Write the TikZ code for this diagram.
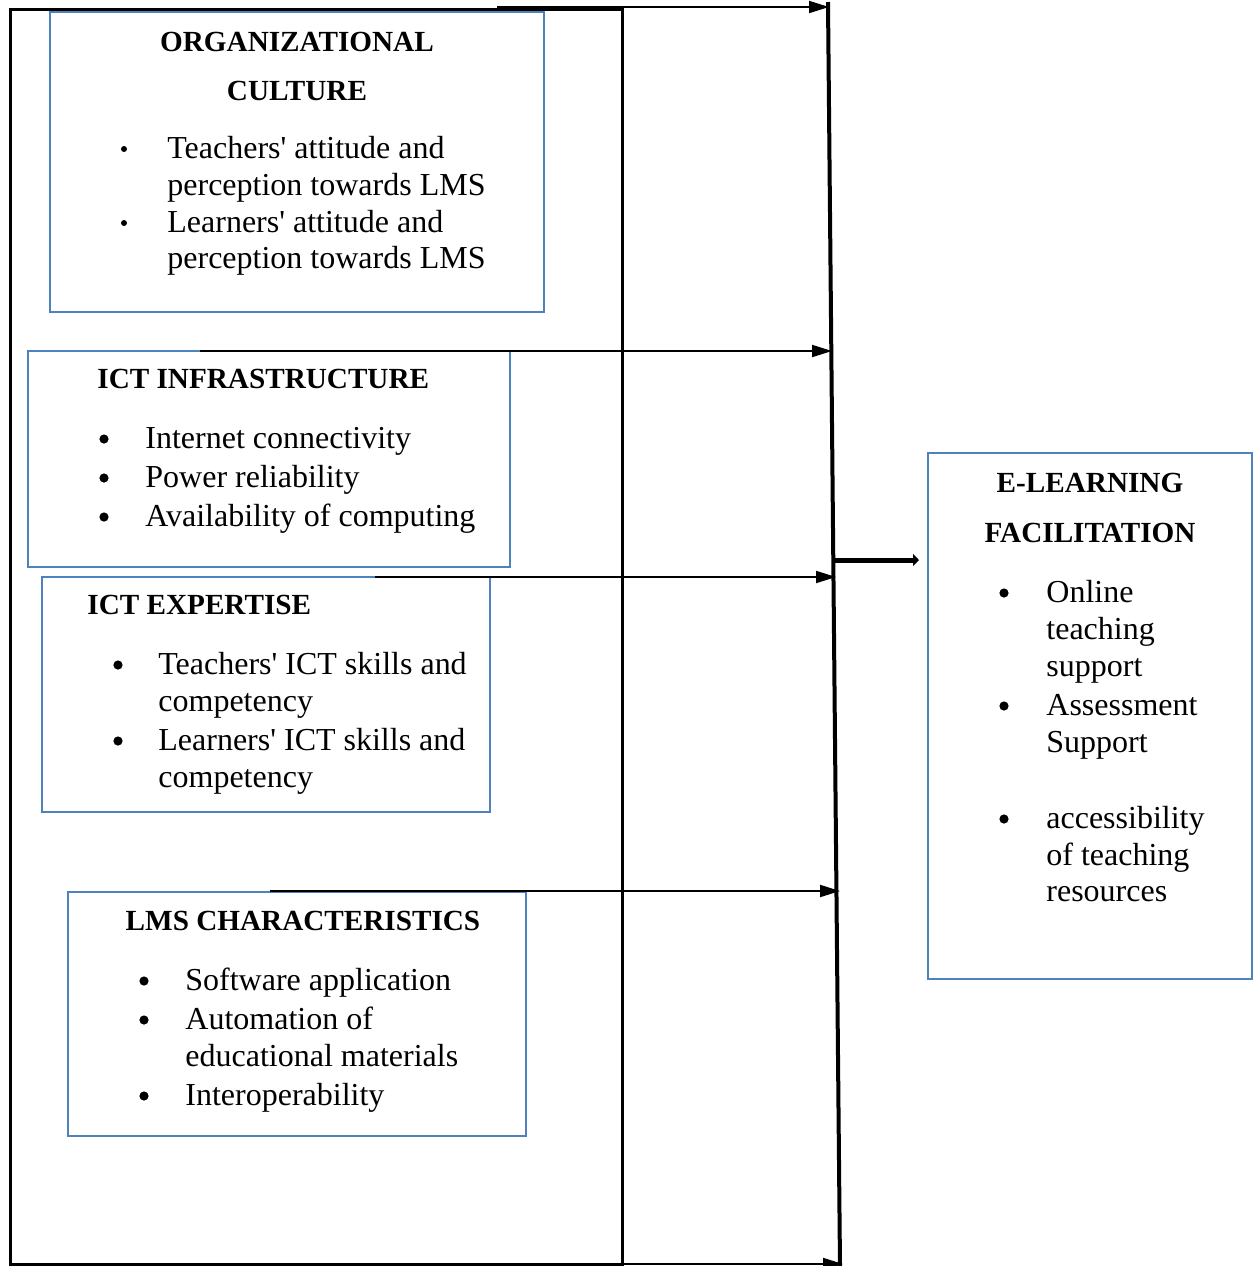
\documentclass[tikz,border=0pt]{standalone}
\usepackage{fontspec}
\setmainfont{Liberation Serif}[Ligatures=TeXOff]
\usetikzlibrary{arrows.meta}
\definecolor{boxblue}{RGB}{79,129,189}
\begin{document}
\begin{tikzpicture}[x={(0.5pt,0)},y={(0,-0.5pt)},
  bluebox/.style={draw=boxblue,line width=1pt},
  body/.style={anchor=base west,inner sep=0pt,font=\fontsize{16}{19}\selectfont},
  ttl/.style={anchor=base,inner sep=0pt,font=\fontsize{14.6}{17}\selectfont\bfseries},
  ttlw/.style={anchor=base west,inner sep=0pt,font=\fontsize{14.6}{17}\selectfont\bfseries},
  sbul/.style={fill=black,circle,inner sep=0pt,minimum size=3pt},
  lbul/.style={fill=black,circle,inner sep=0pt,minimum size=4.6pt},
  arr/.style={line width=1pt,-{Triangle[length=10pt,width=6pt]}},
  thickarr/.style={line width=2.5pt,-{Triangle[length=3pt,width=6pt]}}]
\useasboundingbox (0,0) rectangle (1258,1266);
% outer frame
\draw[line width=1.5pt] (10,9) rectangle (622,1264);
% vertical collector line
\coordinate (vt) at (828,2);
\coordinate (vb) at (840,1266);
\draw[line width=2pt] (vt) -- (vb);
% blue boxes
\draw[bluebox] (50,12) rectangle (544,312);
\draw[bluebox] (28,351) rectangle (510,567);
\draw[bluebox] (42,577) rectangle (490,812);
\draw[bluebox] (68,892) rectangle (526,1136);
\draw[bluebox] (928,453) rectangle (1252,979);
% arrow start and end points
\coordinate (s1) at (497,7);   \coordinate (e1) at (829,7);
\coordinate (s2) at (200,351); \coordinate (e2) at (832,351);
\coordinate (s3) at (375,577); \coordinate (e3) at (836,577);
\coordinate (s4) at (270,891); \coordinate (e4) at (840,891);
\coordinate (s5) at (400,1264);\coordinate (e5) at (843,1264);
\draw[arr] (s1) -- (e1);
\draw[arr] (s2) -- (e2);
\draw[arr] (s3) -- (e3);
\draw[arr] (s4) -- (e4);
\draw[arr] (s5) -- (e5);
\coordinate (ms) at (832,560);
\coordinate (me) at (919,560);
\draw[thickarr] (ms) -- (me);
% Organizational culture
\node[ttl] (oct1) at (297,51) {ORGANIZATIONAL};
\node[ttl] (oct2) at (297,100) {CULTURE};
\node[sbul] (ocb1) at (124,149) {};
\node[body] (oc1) at (167,158) {Teachers' attitude and};
\node[body] (oc2) at (167,195) {perception towards LMS};
\node[sbul] (ocb2) at (124,223) {};
\node[body] (oc3) at (167,232) {Learners' attitude and};
\node[body] (oc4) at (167,268) {perception towards LMS};
% ICT infrastructure
\node[ttlw] (iit) at (97,388) {ICT INFRASTRUCTURE};
\node[lbul] (iib1) at (104,439) {};
\node[body] (ii1) at (145,448) {Internet connectivity};
\node[lbul] (iib2) at (104,478) {};
\node[body] (ii2) at (145,487) {Power reliability};
\node[lbul] (iib3) at (104,517) {};
\node[body] (ii3) at (145,526) {Availability of computing};
% ICT expertise
\node[ttlw] (iet) at (87,614) {ICT EXPERTISE};
\node[lbul] (ieb1) at (118,665) {};
\node[body] (ie1) at (158,674) {Teachers' ICT skills and};
\node[body] (ie2) at (158,711) {competency};
\node[lbul] (ieb2) at (118,741) {};
\node[body] (ie3) at (158,750) {Learners' ICT skills and};
\node[body] (ie4) at (158,787) {competency};
% LMS characteristics
\node[ttl] (lmt) at (303,930) {LMS CHARACTERISTICS};
\node[lbul] (lmb1) at (144,981) {};
\node[body] (lm1) at (185,990) {Software application};
\node[lbul] (lmb2) at (144,1020) {};
\node[body] (lm2) at (185,1029) {Automation of};
\node[body] (lm3) at (185,1066) {educational materials};
\node[lbul] (lmb3) at (144,1096) {};
\node[body] (lm4) at (185,1105) {Interoperability};
% E-learning facilitation
\node[ttl] (elt1) at (1090,492) {E-LEARNING};
\node[ttl] (elt2) at (1090,542) {FACILITATION};
\node[lbul] (elb1) at (1004,593) {};
\node[body] (el1) at (1046,602) {Online};
\node[body] (el2) at (1046,639) {teaching};
\node[body] (el3) at (1046,676) {support};
\node[lbul] (elb2) at (1004,706) {};
\node[body] (el4) at (1046,715) {Assessment};
\node[body] (el5) at (1046,752) {Support};
\node[lbul] (elb3) at (1004,819) {};
\node[body] (el6) at (1046,828) {accessibility};
\node[body] (el7) at (1046,865) {of teaching};
\node[body] (el8) at (1046,901) {resources};
\end{tikzpicture}
\end{document}
